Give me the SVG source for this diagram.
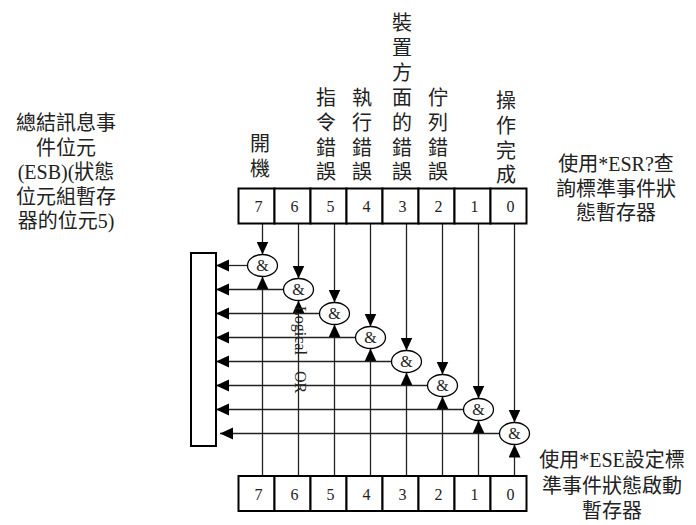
<svg xmlns="http://www.w3.org/2000/svg" width="696" height="525" viewBox="0 0 696 525">
<defs>
<marker id="ah" markerUnits="userSpaceOnUse" markerWidth="14" markerHeight="13" refX="13" refY="6" orient="auto">
<path d="M0,0 L13,6 L0,12 z" fill="#000"/>
</marker>
<style>
.t{font-family:"Liberation Serif","Noto Sans CJK TC",serif;fill:#222;}
.lat{font-family:"Liberation Serif",serif;}
.lbl{font-size:20px;text-anchor:middle;}
.side{font-size:20px;text-anchor:middle;}
.num{font-size:16px;text-anchor:middle;}
.amp{font-size:16px;text-anchor:middle;}
.cell{fill:#fff;stroke:#000;stroke-width:2;}
.gate{fill:#fff;stroke:#000;stroke-width:1.3;}
.arr{fill:none;stroke:#222;stroke-width:1.3;marker-end:url(#ah);}
</style>
</defs>
<rect width="696" height="525" fill="#fff"/>

<g id="connectors">
<path class="arr" d="M262.5,224 V254.5"/>
<path class="arr" d="M298.5,224 V278.5"/>
<path class="arr" d="M334.5,224 V302.5"/>
<path class="arr" d="M370.5,224 V326.5"/>
<path class="arr" d="M406.5,224 V350.5"/>
<path class="arr" d="M442.5,224 V374.5"/>
<path class="arr" d="M478.5,224 V398.5"/>
<path class="arr" d="M514.5,224 V422.5"/>
<path class="arr" d="M262.5,476 V276.5"/>
<path class="arr" d="M298.5,476 V300.5"/>
<path class="arr" d="M334.5,476 V324.5"/>
<path class="arr" d="M370.5,476 V348.5"/>
<path class="arr" d="M406.5,476 V372.5"/>
<path class="arr" d="M442.5,476 V396.5"/>
<path class="arr" d="M478.5,476 V420.5"/>
<path class="arr" d="M514.5,476 V444.5"/>
<path class="arr" d="M247.5,265.5 H216"/>
<path class="arr" d="M283.5,289.5 H216"/>
<path class="arr" d="M319.5,313.5 H216"/>
<path class="arr" d="M355.5,337.5 H216"/>
<path class="arr" d="M391.5,361.5 H216"/>
<path class="arr" d="M427.5,385.5 H216"/>
<path class="arr" d="M463.5,409.5 H216"/>
<path class="arr" d="M499.5,433.5 H220"/>
</g>

<g id="or-box">
<rect x="191" y="253" width="25" height="193" fill="#fff" stroke="#000" stroke-width="2"/>
<text class="t" font-size="16" transform="translate(295,306) rotate(90)">Logical<tspan dx="12"> OR</tspan></text>
</g>

<g id="gates">
<g id="gate7"><ellipse class="gate" cx="262.5" cy="265.5" rx="15" ry="11"/><text class="t amp" x="262.5" y="271">&amp;</text></g>
<g id="gate6"><ellipse class="gate" cx="298.5" cy="289.5" rx="15" ry="11"/><text class="t amp" x="298.5" y="295">&amp;</text></g>
<g id="gate5"><ellipse class="gate" cx="334.5" cy="313.5" rx="15" ry="11"/><text class="t amp" x="334.5" y="319">&amp;</text></g>
<g id="gate4"><ellipse class="gate" cx="370.5" cy="337.5" rx="15" ry="11"/><text class="t amp" x="370.5" y="343">&amp;</text></g>
<g id="gate3"><ellipse class="gate" cx="406.5" cy="361.5" rx="15" ry="11"/><text class="t amp" x="406.5" y="367">&amp;</text></g>
<g id="gate2"><ellipse class="gate" cx="442.5" cy="385.5" rx="15" ry="11"/><text class="t amp" x="442.5" y="391">&amp;</text></g>
<g id="gate1"><ellipse class="gate" cx="478.5" cy="409.5" rx="15" ry="11"/><text class="t amp" x="478.5" y="415">&amp;</text></g>
<g id="gate0"><ellipse class="gate" cx="514.5" cy="433.5" rx="15" ry="11"/><text class="t amp" x="514.5" y="439">&amp;</text></g>
</g>

<g id="esr-register">
<rect class="cell" x="238.5" y="188.5" width="36" height="35"/>
<rect class="cell" x="274.5" y="188.5" width="36" height="35"/>
<rect class="cell" x="310.5" y="188.5" width="36" height="35"/>
<rect class="cell" x="346.5" y="188.5" width="36" height="35"/>
<rect class="cell" x="382.5" y="188.5" width="36" height="35"/>
<rect class="cell" x="418.5" y="188.5" width="36" height="35"/>
<rect class="cell" x="454.5" y="188.5" width="36" height="35"/>
<rect class="cell" x="490.5" y="188.5" width="36" height="35"/>
<text class="t num" x="258.5" y="212">7</text>
<text class="t num" x="294.5" y="212">6</text>
<text class="t num" x="330.5" y="212">5</text>
<text class="t num" x="366.5" y="212">4</text>
<text class="t num" x="402.5" y="212">3</text>
<text class="t num" x="438.5" y="212">2</text>
<text class="t num" x="474.5" y="212">1</text>
<text class="t num" x="510.5" y="212">0</text>
</g>

<g id="ese-register">
<rect class="cell" x="238.5" y="476" width="36" height="35"/>
<rect class="cell" x="274.5" y="476" width="36" height="35"/>
<rect class="cell" x="310.5" y="476" width="36" height="35"/>
<rect class="cell" x="346.5" y="476" width="36" height="35"/>
<rect class="cell" x="382.5" y="476" width="36" height="35"/>
<rect class="cell" x="418.5" y="476" width="36" height="35"/>
<rect class="cell" x="454.5" y="476" width="36" height="35"/>
<rect class="cell" x="490.5" y="476" width="36" height="35"/>
<text class="t num" x="258.5" y="499.5">7</text>
<text class="t num" x="294.5" y="499.5">6</text>
<text class="t num" x="330.5" y="499.5">5</text>
<text class="t num" x="366.5" y="499.5">4</text>
<text class="t num" x="402.5" y="499.5">3</text>
<text class="t num" x="438.5" y="499.5">2</text>
<text class="t num" x="474.5" y="499.5">1</text>
<text class="t num" x="510.5" y="499.5">0</text>
</g>

<g id="bit-labels">
<text class="t lbl"><tspan x="260" y="150.5">開</tspan><tspan x="260" y="175.5">機</tspan></text>
<text class="t lbl"><tspan x="326" y="104.5">指</tspan><tspan x="326" y="129.5">令</tspan><tspan x="326" y="154.5">錯</tspan><tspan x="326" y="178.5">誤</tspan></text>
<text class="t lbl"><tspan x="362" y="104.5">執</tspan><tspan x="362" y="129.5">行</tspan><tspan x="362" y="154.5">錯</tspan><tspan x="362" y="178.5">誤</tspan></text>
<text class="t lbl"><tspan x="402" y="29.5">裝</tspan><tspan x="402" y="54.5">置</tspan><tspan x="402" y="79.5">方</tspan><tspan x="402" y="104.5">面</tspan><tspan x="402" y="129.5">的</tspan><tspan x="402" y="154.5">錯</tspan><tspan x="402" y="178.5">誤</tspan></text>
<text class="t lbl"><tspan x="438" y="104.5">佇</tspan><tspan x="438" y="129.5">列</tspan><tspan x="438" y="154.5">錯</tspan><tspan x="438" y="178.5">誤</tspan></text>
<text class="t lbl"><tspan x="506" y="107.5">操</tspan><tspan x="506" y="132.5">作</tspan><tspan x="506" y="157.5">完</tspan><tspan x="506" y="181.5">成</tspan></text>
</g>

<g id="esb-label">
<text class="t side"><tspan x="66" y="130">總結訊息事</tspan><tspan x="66" y="155">件位元</tspan><tspan x="66" y="179"><tspan class="lat">(ESB)(</tspan>狀態</tspan><tspan x="66" y="204">位元組暫存</tspan><tspan x="66" y="228">器的位元<tspan class="lat">5)</tspan></tspan></text>
</g>

<g id="esr-label">
<text class="t side"><tspan x="616" y="171">使用<tspan class="lat">*ESR?</tspan>查</tspan><tspan x="616" y="196">詢標準事件狀</tspan><tspan x="616" y="220">態暫存器</tspan></text>
</g>

<g id="ese-label">
<text class="t side"><tspan x="612" y="467">使用<tspan class="lat">*ESE</tspan>設定標</tspan><tspan x="612" y="493">準事件狀態啟動</tspan><tspan x="612" y="518">暫存器</tspan></text>
</g>
</svg>
